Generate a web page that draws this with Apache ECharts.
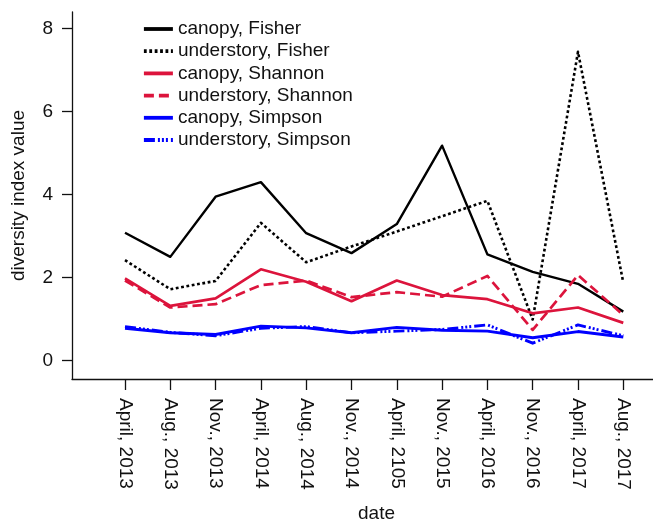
<!DOCTYPE html>
<html>
<head>
<meta charset="utf-8">
<script src="https://cdn.jsdelivr.net/npm/echarts@6/dist/echarts.min.js"></script>
<style>
  html, body { margin: 0; padding: 0; background: #fff; }
  #chart { width: 653px; height: 526px; }
</style>
</head>
<body>
<div id="chart"></div>
<script>
// Sampling dates (x-axis categories)
const dates = ['April, 2013', 'Aug., 2013', 'Nov., 2013', 'April, 2014', 'Aug., 2014', 'Nov., 2014',
               'April, 2105', 'Nov., 2015', 'April, 2016', 'Nov., 2016', 'April, 2017', 'Aug., 2017'];

// Diversity index values per layer and index
const canopyFisher      = [3.08, 2.50, 3.95, 4.30, 3.07, 2.59, 3.29, 5.18, 2.56, 2.14, 1.85, 1.18];
const understoryFisher  = [2.42, 1.72, 1.92, 3.32, 2.37, 2.75, 3.11, 3.48, 3.85, 0.99, 7.44, 1.88];
const canopyShannon     = [1.98, 1.32, 1.50, 2.20, 1.90, 1.43, 1.93, 1.58, 1.48, 1.14, 1.28, 0.91];
const understoryShannon = [1.93, 1.28, 1.36, 1.82, 1.93, 1.53, 1.65, 1.54, 2.04, 0.74, 2.06, 1.10];
const canopySimpson     = [0.78, 0.67, 0.63, 0.83, 0.79, 0.67, 0.80, 0.73, 0.71, 0.55, 0.70, 0.57];
const understorySimpson = [0.82, 0.68, 0.60, 0.78, 0.82, 0.67, 0.71, 0.75, 0.86, 0.42, 0.86, 0.60];

// Y-axis tick values
const yTicks = [0, 2, 4, 6, 8];

const FONT = '"Liberation Sans", Arial, Helvetica, sans-serif';
const RED = '#DC143C';
const BLUE = '#0000FF';
const xIdx = dates.map((_, i) => i);

function pairs(values) {
  return values.map((v, i) => [i, v]);
}

function lineSeries(name, values, color, width, dash) {
  return {
    name: name,
    type: 'line',
    data: pairs(values),
    symbol: 'none',
    animation: false,
    lineStyle: { color: color, width: width, type: dash, cap: 'butt', join: 'round' },
    itemStyle: { color: color },
    emphasis: { disabled: true }
  };
}

const chart = echarts.init(document.getElementById('chart'), null, { renderer: 'canvas' });

chart.setOption({
  backgroundColor: '#ffffff',
  animation: false,
  textStyle: { fontFamily: FONT },
  grid: { left: 72, right: 0, top: 12, bottom: 147, containLabel: false },
  legend: {
    orient: 'vertical',
    left: 142,
    top: 18,
    padding: 0,
    itemWidth: 29,
    itemHeight: 22,
    itemGap: 0.2,
    selectedMode: false,
    // line-only keys: hide the marker symbol drawn on each key
    itemStyle: { opacity: 0, color: 'transparent', borderWidth: 0 },
    lineStyle: { width: 3.8 },
    textStyle: { fontFamily: FONT, fontSize: 19, color: '#111', lineHeight: 22 },
    data: ['canopy, Fisher', 'understory, Fisher', 'canopy, Shannon',
           'understory, Shannon', 'canopy, Simpson', 'understory, Simpson']
  },
  xAxis: {
    type: 'value',
    min: -1.17,
    max: 11.656,
    axisLine: { show: true, onZero: false, lineStyle: { color: '#111', width: 1.3 } },
    axisTick: { show: true, length: 11, customValues: xIdx, lineStyle: { color: '#111', width: 1.3 } },
    axisLabel: {
      show: true,
      customValues: xIdx,
      rotate: -90,
      margin: 19,
      fontSize: 19,
      color: '#111',
      fontFamily: FONT,
      formatter: v => dates[Math.round(v)]
    },
    splitLine: { show: false }
  },
  yAxis: {
    type: 'value',
    min: -0.443,
    max: 8.40,
    name: 'diversity index value',
    nameLocation: 'middle',
    nameGap: 44,
    nameTextStyle: { fontSize: 19, color: '#111', fontFamily: FONT },
    axisLine: { show: true, onZero: false, lineStyle: { color: '#111', width: 1.3 } },
    axisTick: { show: true, length: 10, customValues: yTicks, lineStyle: { color: '#111', width: 1.3 } },
    axisLabel: { show: true, customValues: yTicks, margin: 19, fontSize: 19, color: '#111', fontFamily: FONT },
    splitLine: { show: false }
  },
  graphic: [{
    type: 'text',
    left: 376 - 18,
    top: 504,
    style: { text: 'date', fontSize: 19, fill: '#111', fontFamily: FONT }
  }],
  series: [
    lineSeries('canopy, Fisher', canopyFisher, '#000000', 2.4, 'solid'),
    lineSeries('understory, Fisher', understoryFisher, '#000000', 2.6, [2.8, 2.6]),
    lineSeries('canopy, Shannon', canopyShannon, RED, 2.7, 'solid'),
    lineSeries('understory, Shannon', understoryShannon, RED, 2.7, [10, 5]),
    lineSeries('canopy, Simpson', canopySimpson, BLUE, 2.9, 'solid'),
    lineSeries('understory, Simpson', understorySimpson, BLUE, 2.9, [11, 3, 2, 2, 2, 2, 2, 3])
  ]
});
</script>
</body>
</html>
